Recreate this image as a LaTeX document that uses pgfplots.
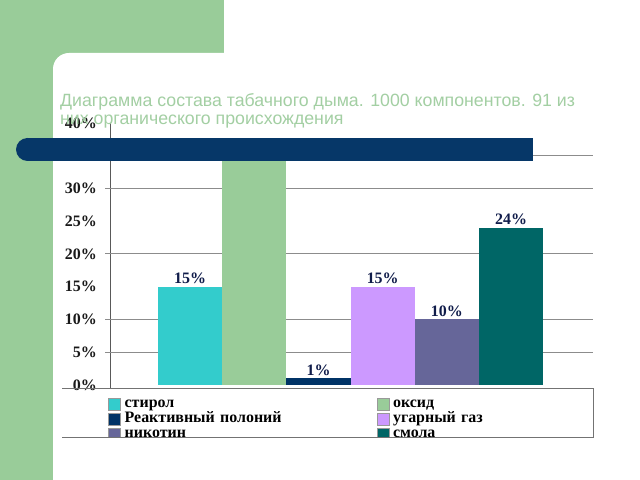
\documentclass[border=0pt]{standalone}
\usepackage{pgfplots}
\pgfplotsset{compat=1.18}
\usepackage{fontspec}
\setmainfont{Liberation Serif}
\newfontfamily\titlefont{Liberation Sans}
\definecolor{bggreen}{HTML}{99CC99}
\definecolor{titlegreen}{HTML}{A3CFA3}
\definecolor{barblue}{HTML}{063768}
\definecolor{cA}{HTML}{33CCCC}
\definecolor{cB}{HTML}{99CC99}
\definecolor{cC}{HTML}{003366}
\definecolor{cD}{HTML}{CC99FF}
\definecolor{cE}{HTML}{666699}
\definecolor{cF}{HTML}{006666}
\definecolor{lblnavy}{HTML}{101C4A}
\begin{document}
\begin{tikzpicture}
\path[use as bounding box] (0,0) rectangle (640bp,480bp);
\fill[bggreen] (0,0) rectangle (640bp,480bp);
\fill[white] (53bp,0bp) [rounded corners=16bp] -- (53bp,427bp) -- (640bp,427bp) [sharp corners] -- (640bp,0bp) -- cycle;
\fill[white] (224bp,400bp) rectangle (640bp,480bp);
\begin{axis}[
  at={(110bp,95bp)}, anchor=south west,
  scale only axis, width=483bp, height=262bp,
  xmin=-0.248, xmax=7.276, ymin=0, ymax=40,
  axis x line=none, axis y line=left,
  axis line style={-, draw=black!65, line width=0.8bp},
  /pgf/number format/assume math mode=true,
  ytick={0,5,...,40},
  yticklabels={0\%,5\%,10\%,15\%,20\%,25\%,30\%,35\%,40\%},
  major tick length=0pt,
  yticklabel style={font=\bfseries\fontsize{16}{16}\selectfont, text=black!90, inner xsep=0pt, xshift=-13bp},
  extra y ticks={5,10,20,30,35},
  extra y tick labels={},
  extra y tick style={grid=major, major tick length=5bp, tick align=outside, tick style={draw=black!45, line width=1bp}},
  grid style={draw=black!45, line width=1bp},
  every axis plot/.append style={ybar, bar width=1, bar shift=0pt, draw=none},
  nodes near coords={\pgfmathprintnumber{\pgfplotspointmeta}\%},
  nodes near coords style={font=\bfseries\fontsize{16}{16}\selectfont, text=lblnavy, anchor=south, inner sep=3bp},
  legend columns=2,
  legend cell align=left,
  legend image code/.code={\draw[#1, draw=black!40, line width=0.4bp] (0bp,-6bp) rectangle (12bp,6bp);},
  legend style={at={(axis description cs:-0.004,-0.044)}, anchor=north west,
    draw=none, fill=none, inner sep=0pt,
    font=\bfseries\fontsize{16}{16}\selectfont,
    nodes={text width=248bp, inner xsep=4bp, inner ysep=0pt, text height=10.5bp, text depth=4.5bp, align=left},
    column sep=0pt, row sep=0pt},
]
\addplot[fill=cA] coordinates {(1,15)}; \addlegendentry{стирол}
\addplot[fill=cB] coordinates {(2,35)}; \addlegendentry{оксид}
\addplot[fill=cC] coordinates {(3,1)}; \addlegendentry{Реактивный полоний}
\addplot[fill=cD] coordinates {(4,15)}; \addlegendentry{угарный газ}
\addplot[fill=cE] coordinates {(5,10)}; \addlegendentry{никотин}
\addplot[fill=cF] coordinates {(6,24)}; \addlegendentry{смола}
\end{axis}
% legend frame (slide clipping)
\fill[white] (60bp,30bp) rectangle (600bp,42.5bp);
\draw[black!55, line width=0.9bp] (62bp,92bp) -- (593bp,92bp);
\draw[black!55, line width=0.9bp] (62bp,43bp) -- (593bp,43bp) -- (593bp,92bp);
\draw[black!65, line width=0.8bp] (110bp,92bp) -- (110bp,95bp);
% title
\node[anchor=base west, inner sep=0pt, text=titlegreen, font=\titlefont\fontsize{17.8}{17.8}\selectfont] at (60bp,373bp) {Диаграмма состава табачного дыма. 1000 компонентов. 91 из};
\node[anchor=base west, inner sep=0pt, text=titlegreen, font=\titlefont\fontsize{17.8}{17.8}\selectfont] at (60bp,355bp) {них органического происхождения};
% dark blue band
\fill[barblue] (27.5bp,319bp) rectangle (533bp,342bp);
\fill[barblue] (27.5bp,330.5bp) circle (11.5bp);
\end{tikzpicture}
\end{document}
